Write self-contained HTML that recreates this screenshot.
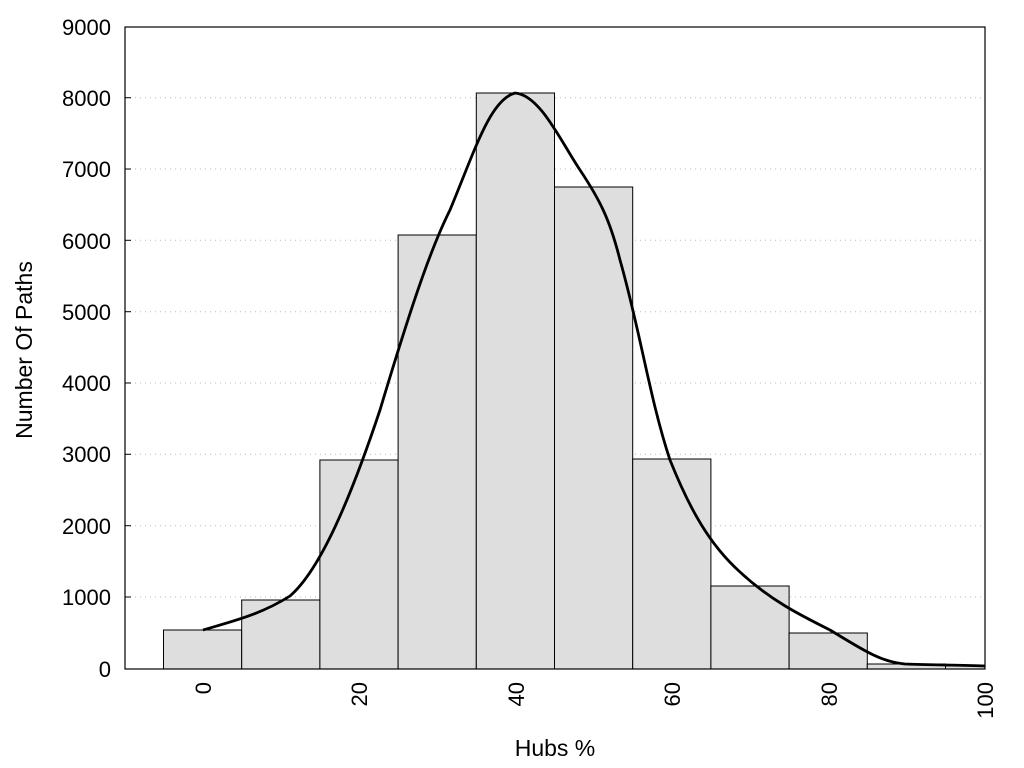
<!DOCTYPE html>
<html><head><meta charset="utf-8"><style>
html,body{margin:0;padding:0;background:#fff;}
svg{display:block;font-family:"Liberation Sans",sans-serif;}
</style></head><body>
<svg width="1024" height="768" viewBox="0 0 1024 768" xmlns="http://www.w3.org/2000/svg">
<rect width="1024" height="768" fill="#fff"/>
<g stroke="#bbb" stroke-width="1" stroke-dasharray="1,4">
<line x1="125" x2="985" y1="97.7" y2="97.7"/>
<line x1="125" x2="985" y1="169" y2="169"/>
<line x1="125" x2="985" y1="240.3" y2="240.3"/>
<line x1="125" x2="985" y1="311.7" y2="311.7"/>
<line x1="125" x2="985" y1="383" y2="383"/>
<line x1="125" x2="985" y1="454.3" y2="454.3"/>
<line x1="125" x2="985" y1="525.7" y2="525.7"/>
<line x1="125" x2="985" y1="597" y2="597"/>
</g>
<g fill="#dedede" stroke="#000" stroke-width="1">
<rect x="163.5" y="630" width="78.2" height="39"/>
<rect x="241.7" y="600" width="78.2" height="69"/>
<rect x="319.9" y="460" width="78.2" height="209"/>
<rect x="398.1" y="235" width="78.2" height="434"/>
<rect x="476.3" y="93" width="78.2" height="576"/>
<rect x="554.5" y="187" width="78.2" height="482"/>
<rect x="632.7" y="459" width="78.2" height="210"/>
<rect x="710.9" y="586" width="78.2" height="83"/>
<rect x="789.1" y="633" width="78.2" height="36"/>
<rect x="867.3" y="664" width="78.2" height="5"/>
<rect x="945.5" y="666" width="39.5" height="3"/>
</g>
<path d="M203,630 C230,622 260,615 290,596 C320,570 350,500 380,410 C410,310 430,250 450,210 C475,150 490,100 515,93 C540,95 560,140 580,170 C600,200 610,220 620,260 C640,330 650,400 670,460 C690,510 710,545 740,572 C770,600 800,615 830,630 C860,648 880,662 905,664 C930,665 960,665 985,666" fill="none" stroke="#000" stroke-width="2.8"/>
<rect x="125" y="27" width="860" height="642" fill="none" stroke="#000" stroke-width="1.2"/>
<g stroke="#000" stroke-width="1">
<line x1="125" x2="131" y1="97.7" y2="97.7"/>
<line x1="125" x2="131" y1="169" y2="169"/>
<line x1="125" x2="131" y1="240.3" y2="240.3"/>
<line x1="125" x2="131" y1="311.7" y2="311.7"/>
<line x1="125" x2="131" y1="383" y2="383"/>
<line x1="125" x2="131" y1="454.3" y2="454.3"/>
<line x1="125" x2="131" y1="525.7" y2="525.7"/>
<line x1="125" x2="131" y1="597" y2="597"/>
</g>
<g font-size="22" text-anchor="end" fill="#000">
<text x="111" y="35">9000</text>
<text x="111" y="106">8000</text>
<text x="111" y="177">7000</text>
<text x="111" y="249">6000</text>
<text x="111" y="320">5000</text>
<text x="111" y="391">4000</text>
<text x="111" y="462">3000</text>
<text x="111" y="534">2000</text>
<text x="111" y="605">1000</text>
<text x="111" y="677">0</text>
</g>
<g font-size="22" text-anchor="end" fill="#000">
<text transform="translate(211,682) rotate(-90)">0</text>
<text transform="translate(367,682) rotate(-90)">20</text>
<text transform="translate(524,682) rotate(-90)">40</text>
<text transform="translate(680,682) rotate(-90)">60</text>
<text transform="translate(837,682) rotate(-90)">80</text>
<text transform="translate(993,682) rotate(-90)">100</text>
</g>
<text x="555" y="756" font-size="23" text-anchor="middle">Hubs %</text>
<text transform="translate(32,350) rotate(-90)" font-size="23" text-anchor="middle">Number Of Paths</text>
</svg>
</body></html>
